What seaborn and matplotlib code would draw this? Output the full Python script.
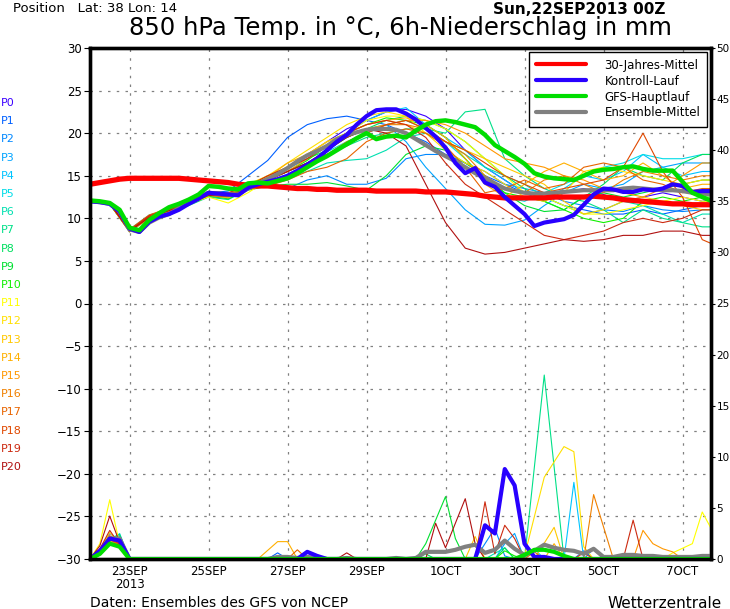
import numpy as np
import pandas as pd
import matplotlib
matplotlib.use("Agg")
import matplotlib.pyplot as plt
import seaborn as sns

# time axis in days after 22SEP2013 00Z
days_6h = np.arange(0, 16.01, 0.25)
days_12h = np.arange(0, 16.01, 0.5)

# thick lines, 850 hPa temperature (6h steps)
climate_temp = [14.0, 14.2, 14.4, 14.6, 14.7, 14.7, 14.7, 14.7, 14.7, 14.7, 14.6, 14.5, 14.4, 14.3, 14.2, 14.0,
                13.9, 13.8, 13.8, 13.7, 13.6, 13.5, 13.5, 13.4, 13.4, 13.3, 13.3, 13.3, 13.3, 13.2, 13.2, 13.2,
                13.2, 13.2, 13.1, 13.1, 13.1, 13.0, 12.9, 12.8, 12.6, 12.5, 12.4, 12.4, 12.4, 12.4, 12.4, 12.5,
                12.5, 12.5, 12.5, 12.6, 12.5, 12.4, 12.2, 12.1, 12.0, 11.9, 11.8, 11.7, 11.7, 11.6, 11.6, 11.6, 11.6]
gfs_temp = [12.1, 12.0, 11.8, 11.0, 8.9, 8.6, 9.8, 10.6, 11.3, 11.7, 12.2, 12.8, 13.8, 13.7, 13.5, 13.4,
            14.1, 14.2, 14.1, 14.4, 14.7, 15.3, 16.0, 16.7, 17.3, 18.0, 18.7, 19.4, 20.0, 19.3, 19.6, 19.7,
            19.5, 20.3, 21.0, 21.4, 21.5, 21.3, 21.0, 20.7, 19.8, 18.6, 17.9, 17.2, 16.4, 15.3, 14.9, 14.7,
            14.6, 14.5, 15.0, 15.5, 15.7, 15.8, 16.0, 16.1, 15.8, 15.6, 15.6, 15.6, 14.3, 13.0, 12.5, 12.0, 11.9]
control_temp = [12.0, 11.9, 11.7, 10.8, 8.8, 8.4, 9.6, 10.2, 10.5, 11.0, 11.7, 12.3, 13.0, 12.9, 12.8, 12.7,
                13.6, 14.0, 14.3, 14.6, 15.0, 15.6, 16.3, 17.0, 18.0, 19.0, 19.8, 21.0, 22.0, 22.7, 22.8, 22.8,
                22.3, 21.6, 20.6, 19.6, 18.3, 16.5, 15.3, 15.9, 14.2, 13.7, 12.5, 11.5, 10.5, 9.1, 9.5, 9.7,
                9.9, 10.4, 11.6, 12.8, 13.5, 13.4, 13.1, 13.1, 13.4, 13.3, 13.5, 14.0, 13.8, 13.1, 13.2, 13.2, 13.2]
mean_temp = [12.0, 11.9, 11.7, 10.8, 8.7, 8.4, 9.5, 10.1, 10.5, 11.2, 11.8, 12.5, 13.0, 12.9, 12.8, 12.8,
             13.5, 14.1, 14.6, 15.2, 15.9, 16.7, 17.4, 17.9, 18.5, 19.3, 19.8, 20.1, 20.4, 20.5, 20.5, 20.4,
             20.0, 19.3, 18.6, 17.9, 17.3, 16.7, 16.0, 15.3, 14.7, 14.1, 13.5, 13.2, 13.0, 12.9, 12.9, 13.0,
             13.1, 13.2, 13.3, 13.3, 13.3, 13.3, 13.5, 13.6, 13.5, 13.4, 13.3, 13.3, 13.2, 13.0, 12.9, 12.8, 12.8]

# thick lines, 6h precipitation (mm)
control_rain = [0, 0.8, 2.0, 1.8, 0, 0, 0, 0, 0, 0, 0, 0, 0, 0, 0, 0,
                0, 0, 0, 0, 0, 0, 0.7, 0.3, 0, 0, 0, 0, 0, 0, 0, 0,
                0, 0, 0, 0, 0, 0, 0, 0, 3.3, 2.5, 8.8, 7.2, 1.5, 0.2, 0.2, 0,
                0, 0, 0, 0, 0, 0, 0, 0, 0, 0, 0, 0, 0, 0, 0, 0, 0]
gfs_rain = [0, 0.5, 1.5, 1.2, 0, 0, 0, 0, 0, 0, 0, 0, 0, 0, 0, 0,
            0, 0, 0, 0, 0, 0, 0, 0, 0, 0, 0, 0, 0, 0, 0, 0,
            0, 0, 0, 0, 0, 0, 0, 0, 0, 0, 0, 0, 0.4, 0.9, 0.9, 0.7,
            0.3, 0, 0, 0, 0, 0, 0, 0, 0, 0, 0, 0, 0, 0, 0, 0, 0]
mean_rain = [0, 0.6, 2.0, 2.0, 0, 0, 0, 0, 0, 0, 0, 0, 0, 0, 0, 0,
             0, 0, 0, 0.2, 0.2, 0.1, 0.2, 0.1, 0, 0, 0.1, 0, 0, 0, 0, 0.1,
             0, 0.1, 0.7, 0.7, 0.7, 0.9, 1.2, 1.4, 0.6, 0.9, 1.8, 1.0, 0.4, 0.8, 1.4, 1.1,
             0.9, 0.8, 0.5, 1.0, 0.2, 0.2, 0.4, 0.4, 0.3, 0.3, 0.2, 0.2, 0.2, 0.2, 0.3, 0.3, 0.3]

# ensemble members P0..P20, temperature (12h steps)
member_names = ['P%d' % i for i in range(21)]
member_colors = ['#3c00ff', '#0060ff', '#0088ff', '#00a4ff', '#00c4ff', '#00dce8', '#00e0b0', '#00e088',
                 '#00e060', '#00e030', '#10f000', '#ffff00', '#ffe000', '#ffc800', '#ffb000', '#ff9800',
                 '#f08000', '#e86400', '#e04800', '#cc2a10', '#b01010']
member_temp = [
    [12.0, 11.7, 8.5, 10.2, 11.0, 11.9, 12.9, 12.7, 13.8, 14.8, 16.0, 17.5, 19.0, 20.5, 21.5, 22.5, 22.8, 22.0, 20.5, 18.0, 16.0, 14.5, 13.0, 12.5, 13.0, 13.5, 12.8, 12.0, 12.5, 13.0, 12.5, 12.0, 12.3],
    [12.0, 11.8, 8.6, 10.3, 11.2, 12.0, 13.0, 13.2, 15.0, 16.8, 19.5, 21.0, 21.7, 22.0, 21.5, 21.0, 20.0, 19.0, 17.5, 16.5, 15.0, 14.0, 13.0, 12.5, 11.5, 11.0, 10.5, 10.5, 11.0, 10.5, 11.0, 11.5, 11.5],
    [12.0, 11.7, 8.4, 10.0, 10.8, 11.6, 12.7, 12.5, 13.4, 13.8, 13.5, 14.5, 15.0, 14.0, 14.0, 14.7, 17.0, 17.5, 17.5, 16.5, 15.5, 14.0, 13.5, 13.0, 12.0, 11.5, 11.0, 10.8, 11.5, 11.0, 10.8, 11.0, 11.0],
    [12.0, 11.8, 8.6, 10.1, 10.9, 11.8, 12.8, 12.6, 13.6, 14.5, 15.5, 16.5, 18.0, 19.5, 20.5, 21.0, 19.0, 16.0, 13.5, 11.0, 9.3, 9.2, 9.8, 11.5, 13.0, 14.0, 13.5, 14.0, 15.5, 16.0, 16.5, 16.5, 16.5],
    [12.0, 11.7, 8.5, 10.2, 11.1, 11.9, 12.9, 12.8, 13.6, 14.6, 15.8, 17.0, 18.5, 20.0, 21.5, 22.5, 23.0, 21.0, 19.5, 18.0, 16.0, 14.5, 13.0, 12.0, 13.5, 15.0, 14.5, 15.5, 17.5, 16.0, 15.0, 15.5, 15.5],
    [12.0, 11.7, 8.7, 10.4, 11.0, 11.7, 12.6, 12.4, 13.4, 14.2, 15.0, 16.2, 17.8, 19.0, 20.0, 21.0, 21.5, 20.5, 19.0, 17.0, 14.5, 12.5, 12.0, 13.0, 14.0, 15.0, 16.0, 16.5, 17.5, 17.0, 17.0, 17.5, 17.5],
    [12.0, 11.8, 8.6, 10.2, 10.9, 11.8, 12.8, 12.7, 13.5, 14.0, 14.8, 15.5, 16.5, 16.8, 17.0, 18.0, 19.5, 20.0, 19.0, 17.5, 16.0, 15.0, 14.0, 12.5, 11.5, 10.5, 11.0, 12.0, 11.5, 10.5, 9.5, 10.5, 10.5],
    [12.0, 11.7, 8.5, 10.0, 10.7, 11.5, 12.5, 12.2, 13.4, 14.5, 15.5, 16.5, 17.5, 18.5, 19.5, 20.0, 20.5, 20.5, 20.0, 22.5, 22.8, 17.0, 15.0, 13.5, 12.5, 12.0, 11.0, 9.5, 11.0, 10.0, 9.5, 9.0, 9.0],
    [12.0, 11.8, 8.6, 10.3, 11.1, 11.9, 12.9, 12.8, 13.7, 14.8, 16.0, 17.0, 18.0, 19.5, 20.5, 21.5, 22.0, 21.5, 20.5, 19.0, 17.0, 15.0, 13.5, 12.0, 11.0, 12.5, 14.0, 16.0, 15.0, 14.5, 16.5, 17.5, 17.5],
    [12.0, 11.7, 8.5, 10.1, 10.8, 11.6, 12.6, 12.3, 13.3, 13.8, 14.0, 14.0, 14.2, 13.8, 13.3, 15.0, 17.5, 18.5, 18.0, 16.5, 15.0, 13.0, 11.5, 10.8, 11.0, 12.5, 13.0, 12.5, 13.0, 13.5, 14.0, 14.5, 14.5],
    [12.0, 11.7, 8.6, 10.2, 11.0, 11.8, 12.8, 12.6, 13.6, 14.5, 15.5, 16.8, 18.5, 20.0, 21.0, 21.8, 21.5, 21.0, 19.5, 17.0, 14.5, 13.0, 12.5, 12.0, 11.0, 10.0, 9.5, 10.0, 12.0, 12.5, 12.0, 12.5, 12.5],
    [12.0, 11.8, 8.6, 10.1, 10.9, 11.7, 12.5, 11.8, 13.0, 14.5, 16.0, 17.5, 19.0, 20.0, 21.5, 22.0, 22.0, 21.5, 20.5, 19.0, 17.0, 15.0, 13.0, 12.5, 11.5, 10.5, 10.5, 11.0, 11.5, 12.0, 12.5, 12.0, 12.0],
    [12.0, 11.7, 8.5, 10.3, 11.2, 12.0, 13.1, 13.0, 14.0, 15.0, 16.5, 18.0, 19.5, 21.0, 22.0, 22.5, 22.0, 20.0, 18.0, 16.5, 15.5, 14.0, 12.5, 12.0, 13.0, 15.5, 16.0, 15.5, 15.0, 14.5, 14.0, 14.5, 14.5],
    [12.0, 11.8, 8.6, 10.2, 11.0, 11.8, 12.9, 12.9, 13.8, 15.0, 16.0, 17.5, 19.0, 20.0, 21.0, 21.5, 21.0, 20.0, 19.0, 18.0, 17.0, 16.0, 15.0, 14.0, 12.0, 10.5, 11.0, 12.0, 12.5, 12.0, 11.5, 11.0, 11.0],
    [12.0, 11.7, 8.4, 10.0, 10.8, 11.6, 12.7, 12.4, 13.5, 14.8, 16.5, 17.5, 18.5, 20.0, 21.0, 21.5, 21.8, 21.0, 19.5, 17.0, 14.0, 12.5, 14.0, 15.5, 16.5, 15.5, 14.5, 15.0, 16.5, 15.0, 13.5, 14.0, 14.0],
    [12.0, 11.7, 8.6, 10.3, 11.1, 11.9, 12.8, 12.7, 13.6, 14.5, 15.5, 17.0, 18.5, 19.5, 20.5, 21.0, 21.5, 21.5, 21.0, 20.0, 18.5, 17.0, 16.5, 16.0, 15.0, 14.5, 13.5, 13.0, 12.5, 13.5, 15.0, 16.5, 16.5],
    [12.0, 11.8, 8.5, 10.1, 10.9, 11.7, 12.7, 12.6, 13.5, 14.2, 15.0, 16.0, 17.5, 19.0, 20.0, 21.0, 21.0, 20.5, 19.0, 17.5, 15.0, 13.5, 13.0, 14.5, 15.0, 14.0, 13.0, 14.5, 15.5, 15.0, 14.5, 15.0, 15.0],
    [12.0, 11.7, 8.7, 10.4, 11.2, 12.0, 13.0, 12.9, 13.4, 13.8, 14.5, 15.5, 16.0, 17.0, 19.0, 20.0, 20.5, 20.0, 18.5, 16.0, 13.0, 13.5, 14.5, 13.5, 14.0, 16.0, 16.5, 16.0, 14.5, 14.0, 13.0, 13.5, 13.5],
    [12.0, 11.8, 8.5, 10.2, 11.0, 11.8, 12.8, 12.7, 13.5, 14.5, 15.5, 16.5, 17.5, 18.5, 20.0, 21.0, 21.5, 20.5, 19.0, 18.0, 16.5, 15.0, 14.0, 13.0, 13.5, 14.0, 14.5, 16.0, 20.0, 15.5, 12.5, 7.5, 6.5],
    [12.0, 11.7, 8.6, 10.3, 11.1, 12.0, 13.1, 13.0, 13.8, 15.0, 16.0, 17.0, 18.5, 20.0, 21.0, 21.5, 21.0, 19.5, 16.5, 14.0, 12.5, 11.0, 9.5, 8.0, 7.5, 8.0, 8.5, 9.5, 10.0, 9.5, 10.0, 11.0, 11.0],
    [12.0, 11.8, 8.5, 10.1, 10.9, 11.7, 12.7, 12.6, 13.5, 14.5, 15.5, 16.5, 18.0, 19.5, 20.5, 20.0, 18.5, 14.0, 9.5, 6.5, 5.8, 6.0, 6.5, 7.0, 7.5, 7.3, 7.5, 8.0, 8.0, 8.5, 8.5, 8.0, 8.0],
]

# ensemble members, 6h precipitation as (day, mm) points
member_rain = [
    [(0, 0), (0.25, 0.8), (0.5, 2.2), (0.75, 2.0), (1, 0), (5.5, 0), (5.75, 0.4), (6, 0), (16, 0)],
    [(0, 0), (0.25, 0.9), (0.5, 2.5), (0.75, 1.8), (1, 0), (4.5, 0), (4.75, 0.6), (5, 0), (12.25, 0), (12.5, 0.8), (12.75, 0), (16, 0)],
    [(0, 0), (0.25, 0.7), (0.5, 2.0), (0.75, 2.2), (1, 0), (9.75, 0), (10.25, 3.0), (10.5, 0.3), (10.75, 0), (12.5, 0), (12.75, 1.0), (13, 0), (16, 0)],
    [(0, 0), (0.25, 0.6), (0.5, 1.8), (0.75, 2.0), (1, 0), (10.25, 0), (10.5, 1.5), (10.75, 2.5), (11, 0), (16, 0)],
    [(0, 0), (0.25, 0.5), (0.5, 1.9), (0.75, 2.3), (1, 0), (12, 0), (12.25, 7.5), (12.5, 0), (16, 0)],
    [(0, 0), (0.25, 0.6), (0.5, 1.6), (0.75, 2.5), (1, 0), (11, 0), (11.25, 1.0), (11.5, 0), (16, 0)],
    [(0, 0), (0.25, 0.8), (0.5, 2.1), (0.75, 1.9), (1, 0), (10, 0), (10.5, 1.1), (10.75, 0), (16, 0)],
    [(0, 0), (0.25, 0.5), (0.5, 1.5), (0.75, 1.8), (1, 0), (11, 0), (11.5, 18.0), (12, 0), (16, 0)],
    [(0, 0), (0.25, 0.7), (0.5, 2.0), (0.75, 2.4), (1, 0), (8.25, 0), (8.5, 0.5), (8.75, 0), (10.25, 0), (10.5, 1.1), (10.75, 0), (16, 0)],
    [(0, 0), (0.25, 0.6), (0.5, 1.7), (0.75, 2.0), (1, 0), (8.25, 0), (8.5, 1.5), (9, 6.1), (9.25, 2.0), (9.5, 0), (16, 0)],
    [(0, 0), (0.25, 0.6), (0.5, 1.9), (0.75, 1.7), (1, 0), (10.25, 0), (10.5, 0.8), (10.75, 0.3), (11, 0), (16, 0)],
    [(0, 0), (0.25, 1.5), (0.5, 5.8), (0.75, 1.5), (1, 0), (14.5, 0), (14.75, 0.6), (15.25, 1.5), (15.5, 4.6), (15.75, 2.8), (16, 1.0)],
    [(0, 0), (0.25, 0.9), (0.5, 2.6), (0.75, 1.5), (1, 0), (10.75, 0), (11, 0.3), (11.5, 8.0), (12, 11.0), (12.25, 10.5), (12.5, 1.2), (12.75, 0), (16, 0)],
    [(0, 0), (0.25, 0.8), (0.5, 2.2), (0.75, 1.6), (1, 0), (9.5, 0), (9.75, 2.2), (10, 0), (11.25, 0), (11.75, 3.1), (12, 0), (16, 0)],
    [(0, 0), (0.25, 0.7), (0.5, 1.8), (0.75, 1.4), (1, 0), (4.25, 0), (4.75, 1.7), (5, 1.7), (5.25, 0), (11.5, 0), (11.75, 1.5), (12, 0), (16, 0)],
    [(0, 0), (0.25, 0.5), (0.5, 1.5), (0.75, 1.6), (1, 0), (13.75, 0), (14, 2.8), (14.25, 1.5), (14.5, 1.0), (14.75, 0.7), (15, 0), (16, 0)],
    [(0, 0), (0.25, 0.6), (0.5, 2.0), (0.75, 1.2), (1, 0), (12.5, 0), (12.75, 6.3), (13.25, 0), (16, 0)],
    [(0, 0), (0.25, 0.8), (0.5, 2.3), (0.75, 1.3), (1, 0), (5, 0), (5.25, 0.9), (5.5, 0), (11, 0), (11.25, 0.7), (11.5, 0), (16, 0)],
    [(0, 0), (0.25, 0.7), (0.5, 1.9), (0.75, 1.5), (1, 0), (12.25, 0), (12.5, 0.6), (12.75, 0), (16, 0)],
    [(0, 0), (0.25, 1.0), (0.5, 2.8), (0.75, 1.4), (1, 0), (9.75, 0), (10, 5.6), (10.25, 0.5), (10.5, 3.3), (10.75, 2.0), (11, 0), (13.5, 0), (13.75, 3.8), (14, 0), (16, 0)],
    [(0, 0), (0.25, 1.3), (0.5, 4.2), (0.75, 1.6), (1, 0), (6.25, 0), (6.5, 0.6), (6.75, 0), (8.5, 0), (8.75, 3.5), (9, 1.1), (9.5, 5.9), (9.75, 1.5), (10, 0), (16, 0)],
]

tick_days = [1, 3, 5, 7, 9, 11, 13, 15]
tick_labels = ['23SEP\n2013', '25SEP', '27SEP', '29SEP', '1OCT', '3OCT', '5OCT', '7OCT']

# long tables for seaborn
temp_df = pd.DataFrame({
    'day': np.tile(days_12h, len(member_names)),
    'temp': np.concatenate(member_temp),
    'member': np.repeat(member_names, len(days_12h)),
})
rain_rows = []
for name, pts in zip(member_names, member_rain):
    for d, v in pts:
        rain_rows.append((d, v, name))
rain_df = pd.DataFrame(rain_rows, columns=['day', 'rain', 'member'])
palette = dict(zip(member_names, member_colors))

sns.set_style("white")
plt.rcParams['font.family'] = ['DejaVu Sans']
plt.rcParams['text.color'] = 'black'
plt.rcParams['xtick.color'] = 'black'
plt.rcParams['ytick.color'] = 'black'

fig = plt.figure(figsize=(7.3, 6.09), dpi=100)
ax = fig.add_axes([90 / 730, 1 - 559 / 609, (711 - 90) / 730, (559 - 48) / 609])
ax2 = ax.twinx()

RED, BLUE, GREEN, GRAY = '#ff0000', '#2800ff', '#00dd00', '#808080'

# temperature
sns.lineplot(data=temp_df, x='day', y='temp', hue='member', palette=palette, units='member',
             estimator=None, sort=False, lw=0.8, legend=False, ax=ax)
sns.lineplot(x=days_6h, y=mean_temp, color=GRAY, lw=3.0, ax=ax)
sns.lineplot(x=days_6h, y=climate_temp, color=RED, lw=3.8, ax=ax)
sns.lineplot(x=days_6h, y=control_temp, color=BLUE, lw=3.0, ax=ax)
sns.lineplot(x=days_6h, y=gfs_temp, color=GREEN, lw=3.2, ax=ax)

# precipitation
sns.lineplot(data=rain_df, x='day', y='rain', hue='member', palette=palette, units='member',
             estimator=None, sort=False, lw=0.8, legend=False, ax=ax2)
sns.lineplot(x=days_6h, y=mean_rain, color=GRAY, lw=3.0, ax=ax2)
sns.lineplot(x=days_6h, y=control_rain, color=BLUE, lw=3.0, ax=ax2)
sns.lineplot(x=days_6h, y=gfs_rain, color=GREEN, lw=3.0, ax=ax2)

ax.set_xlim(0, (711 - 90) / 39.5)
ax.set_ylim(-30, 30)
ax2.set_ylim(0, 50)
ax.set_yticks(range(-30, 31, 5))
ax2.set_yticks(range(0, 51, 5))
ax.set_xticks(tick_days)
ax.set_xticklabels(tick_labels, fontsize=8.5, linespacing=1.0)
ax.tick_params(axis='x', length=0, pad=4)
ax.tick_params(axis='y', labelsize=8.5, length=4, width=0.8, direction='out', pad=2)
ax2.tick_params(axis='y', labelsize=7.5, length=3, width=0.8, direction='out', pad=1)
ax.set_xlabel('')
ax.set_ylabel('')
ax2.set_ylabel('')
ax.grid(True, color='#808080', linestyle=(0, (2, 5)), linewidth=0.9)
ax2.grid(False)
for a in (ax, ax2):
    for s in a.spines.values():
        s.set_visible(True)
        s.set_color('black')
        s.set_linewidth(2.4)

handles = [plt.Line2D([], [], color=c, lw=3) for c in (RED, BLUE, GREEN, GRAY)]
leg = ax2.legend(handles, ['30-Jahres-Mittel', 'Kontroll-Lauf', 'GFS-Hauptlauf', 'Ensemble-Mittel'],
                 loc='upper right', bbox_to_anchor=(1.0, 1.0), borderaxespad=0.3, fontsize=8.5,
                 frameon=True, fancybox=False, framealpha=1, edgecolor='black', handlelength=4.2,
                 handletextpad=1.6, labelspacing=0.25, borderpad=0.6)
leg.get_frame().set_linewidth(1.0)

# header and footer texts
fig.text(13 / 730, 1 - 9 / 609, 'Position   Lat: 38 Lon: 14', fontsize=9.5, va='center', ha='left')
fig.text(665 / 730, 1 - 9 / 609, 'Sun,22SEP2013 00Z', fontsize=11, fontweight='bold', va='center', ha='right')
fig.text(400 / 730, 1 - 28 / 609, '850 hPa Temp. in \u00b0C, 6h-Niederschlag in mm', fontsize=17.5,
         va='center', ha='center')
fig.text(90 / 730, 1 - 603 / 609, 'Daten: Ensembles des GFS von NCEP', fontsize=10, va='center', ha='left')
fig.text(722 / 730, 1 - 603 / 609, 'Wetterzentrale', fontsize=11, va='center', ha='right')
for i, (name, col) in enumerate(zip(member_names, member_colors)):
    fig.text(1 / 730, 1 - (103 + 18.2 * i) / 609, name, color=col, fontsize=8, va='center', ha='left')

fig.savefig('out.png', dpi=100)
